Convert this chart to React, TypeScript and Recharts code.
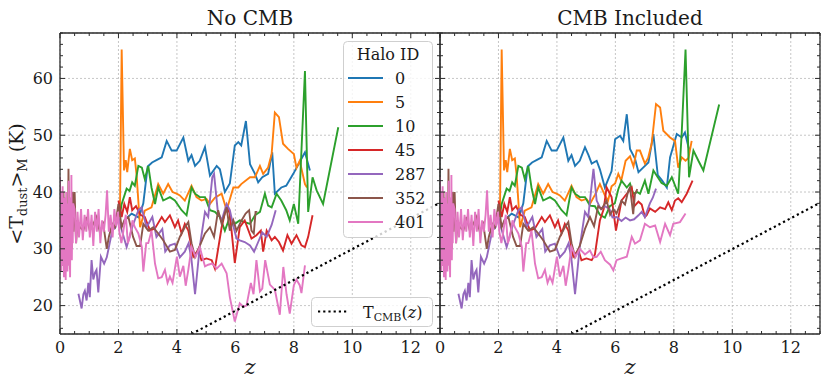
import { LineChart, Line, XAxis, YAxis, CartesianGrid, Legend } from "recharts";

type Pt = [number, number];

// halo tracks: shared low-z part, then the high-z part of each run
const halo0Low: Pt[] = [[2.2,35.0],[2.45,36.2],[2.7,35.5],[2.85,38],[3.0,44.5],[3.15,45.2],[3.3,45.6],[3.48,46.1],[3.65,49.0],[3.82,47.3],[3.99,47.3],[4.22,49.6],[4.39,45.5],[4.5,46.5],[4.62,44.6],[4.78,45.5],[4.96,47.9]];
const halo0NoCmb: Pt[] = [[5.13,42.9],[5.36,44.6],[5.47,44],[5.64,40.0],[5.81,41.5],[5.98,48.2],[6.1,48.8],[6.2,48.2],[6.36,52.5],[6.5,44.9],[6.67,43.2],[6.78,41.7],[6.92,42.6],[7.12,43.2],[7.26,47],[7.35,39.7],[7.57,40.8],[7.74,41.1],[7.98,43.2],[8.38,47],[8.55,43.8]];
const halo0Cmb: Pt[] = [[5.08,46.5],[5.19,45],[5.36,45.5],[5.47,44],[5.64,40.8],[5.87,43.7],[5.99,49.3],[6.16,49.9],[6.27,49],[6.39,53.7],[6.5,47.6],[6.67,45.9],[6.79,43.5],[6.95,44.3],[7.13,45.2],[7.3,50.2],[7.45,43],[7.6,42],[7.76,40.8],[7.87,46.1],[8.1,50.2],[8.27,49.6],[8.38,50.5],[8.5,47.9],[8.55,47.5]];

const halo5Low: Pt[] = [[2.05,35.6],[2.11,65.1],[2.19,43.8],[2.25,45.6],[2.3,43.5],[2.39,47.6],[2.47,45.6],[2.56,45.9],[2.62,43],[2.74,33.8],[2.9,36.7],[3.13,37.3],[3.36,41.4],[3.53,39.7],[3.7,41.4],[3.85,40],[3.99,39.7],[4.1,39.4],[4.27,38.5],[4.5,41.1],[4.67,39.1],[4.84,38.5],[5.01,38.8],[5.13,37.9]];
const halo5NoCmb: Pt[] = [[5.3,39],[5.53,39.7],[5.7,36.8],[5.93,40.8],[6.1,40.8],[6.2,41.4],[6.5,42.6],[6.67,42.6],[6.84,44.6],[6.95,43.2],[7.12,44.3],[7.24,46.7],[7.35,54.0],[7.49,53.2],[7.63,48.5],[7.8,47.6],[8.0,46.7],[8.09,44.3],[8.2,45.5],[8.38,41.4],[8.45,40.8]];
const halo5Cmb: Pt[] = [[5.3,39.5],[5.47,41.4],[5.64,39.4],[5.75,38.5],[5.87,41],[5.99,41.5],[6.1,43.2],[6.2,42],[6.35,45.5],[6.5,46.3],[6.62,44.5],[6.73,47.3],[6.84,47.3],[7.01,45],[7.12,46],[7.24,48.5],[7.39,55.5],[7.53,54.9],[7.64,50.8],[7.87,49.6],[8.04,49],[8.15,44.3],[8.27,46.1],[8.4,45.5],[8.5,46],[8.61,49]];

const halo10Low: Pt[] = [[2.05,36],[2.11,37.9],[2.28,40.6],[2.38,40.2],[2.47,41.7],[2.56,41.1],[2.68,44.6],[2.8,44.3],[2.9,42.3],[3.02,44.6],[3.13,40.8],[3.25,37.9],[3.36,40.8],[3.53,38.5],[3.76,39.1],[3.93,38.5],[4.16,36.8],[4.33,35.9],[4.5,40.8],[4.62,39.7],[4.78,39.1],[4.96,39.1]];
const halo10NoCmb: Pt[] = [[5.13,36.8],[5.3,36.5],[5.47,35.6],[5.64,33.2],[5.81,35.6],[5.98,34.4],[6.15,35.0],[6.32,34.7],[6.5,34.4],[6.67,35.9],[6.84,36.5],[7.01,39.7],[7.12,37.6],[7.24,37.3],[7.41,39.7],[7.57,38.5],[7.74,36.8],[7.86,35.0],[8.0,37.9],[8.15,34.4],[8.38,61.3],[8.49,36.5],[8.64,42.6],[8.78,40.3],[9.0,37.9],[9.52,51.4]];
const halo10Cmb: Pt[] = [[5.13,37.6],[5.3,37.5],[5.47,36],[5.64,35.5],[5.81,37.5],[5.98,38],[6.1,40.5],[6.21,42],[6.39,40.8],[6.5,41.5],[6.61,39.7],[6.75,40],[6.84,39.7],[7.01,42],[7.13,39.7],[7.3,43.8],[7.45,42.6],[7.58,41.6],[7.76,41.1],[7.93,42.6],[8.15,39.7],[8.27,50.5],[8.4,65.1],[8.52,42.6],[8.67,47.3],[8.84,45.5],[9.01,43.8],[9.55,55.4]];

const halo45Low: Pt[] = [[2.0,38.5],[2.11,35.6],[2.2,37.9],[2.3,36.5],[2.39,39.1],[2.47,36.8],[2.6,37.5],[2.75,36],[2.9,35.6],[3.08,33.2],[3.25,33.6],[3.48,35.6],[3.59,34.7],[3.76,35.9],[3.93,33.8],[4.04,35.0],[4.16,32.7],[4.27,34.4],[4.39,33.2],[4.56,28.6],[4.73,29.8],[4.84,28.0],[5.01,28.3],[5.19,28.0]];
const halo45NoCmb: Pt[] = [[5.3,26.5],[5.53,33.8],[5.7,37.6],[5.81,36.2],[5.98,27.5],[6.15,33.8],[6.32,35.0],[6.55,31.8],[6.72,32.4],[6.87,33.2],[6.95,29.5],[7.07,33.2],[7.24,31.5],[7.35,32.1],[7.49,31.2],[7.63,29.7],[7.78,32.4],[7.92,30.9],[8.09,32.4],[8.26,30.6],[8.38,30.3],[8.49,32.1],[8.64,35.9]];
const halo45Cmb: Pt[] = [[5.3,29],[5.47,35],[5.6,37],[5.7,40.8],[5.87,39.1],[6.02,33.2],[6.21,38.5],[6.39,39.7],[6.56,40.8],[6.65,37.5],[6.79,38.3],[6.9,37.8],[7.01,35.6],[7.07,35.9],[7.18,37.1],[7.36,36.5],[7.53,37.3],[7.7,37],[7.81,38.2],[7.93,36.8],[8.04,38.5],[8.15,38.9],[8.27,38.2],[8.44,39.7],[8.64,42]];

const halo287Low: Pt[] = [[0.63,22.1],[0.74,19.5],[0.8,22],[0.85,22.6],[0.91,20.9],[0.97,24],[1.02,21.5],[1.08,28],[1.14,24.6],[1.2,25.8],[1.25,26.3],[1.31,22.3],[1.4,28.6],[1.51,27.4],[1.6,28.5],[1.7,31],[1.79,33.2],[1.9,33.8],[2.0,35.6],[2.1,33.5],[2.28,30.3],[2.47,33.8],[2.68,36.8],[2.79,37.3],[2.96,33.8],[3.16,35.6],[3.3,32.1],[3.5,33.5],[3.6,29.5],[3.76,30.6],[3.93,30.9],[4.1,28.5],[4.27,29.5],[4.4,31],[4.5,28],[4.62,22.0],[4.78,30.3],[4.96,36.5],[5.07,35.6]];
const halo287NoCmb: Pt[] = [[5.21,42.6],[5.27,43.2],[5.4,36.5],[5.53,35],[5.7,37.9],[5.81,36.8],[5.93,34],[6.04,31.8],[6.15,31.5],[6.32,31.2],[6.5,30.6],[6.64,29.5],[6.78,31.2],[6.92,32.9],[7.07,32.1],[7.24,34.2],[7.38,36.8]];
const halo287Cmb: Pt[] = [[5.25,44.1],[5.36,38.5],[5.5,37],[5.64,37.5],[5.8,37],[5.9,35.5],[6.04,35.6],[6.21,34.9],[6.35,35.5],[6.5,35],[6.64,35.2],[6.79,35.9],[6.9,36.5],[7.01,35.6],[7.18,38],[7.28,39],[7.39,40.6]];

const halo352Low: Pt[] = [[0.0,36],[0.03,30],[0.06,38],[0.09,27],[0.12,40],[0.15,29],[0.18,39],[0.21,27],[0.24,38],[0.27,29],[0.29,44.1],[0.32,30],[0.34,26.3],[0.37,39],[0.4,30],[0.43,40],[0.46,33],[0.5,40],[0.55,31],[0.6,35],[0.68,33.8],[0.8,33.2],[0.91,35.6],[1.02,33.2],[1.14,34.4],[1.25,35.6],[1.36,33],[1.48,34.4],[1.6,30.0],[1.67,32.1],[1.79,34.4],[1.88,33.8],[2.0,37.9],[2.11,33.8],[2.2,35],[2.34,35.6],[2.5,32.1],[2.62,30.5],[2.74,30.5],[2.85,34.4],[3.02,33.2],[3.19,33.8],[3.36,32.7],[3.53,31.5],[3.76,29.5],[3.93,29.8],[4.1,32.1],[4.27,33.8],[4.39,34.7],[4.5,31],[4.62,28.6],[4.78,30.5]];
const halo352NoCmb: Pt[] = [[4.96,32.7],[5.13,33.8],[5.27,32.1],[5.41,36.8],[5.53,34.4],[5.7,37.3],[5.81,33.2],[5.93,35],[6.04,33.2],[6.21,35],[6.35,36.2],[6.47,36.8],[6.55,33.2],[6.63,32.7],[6.69,36.5],[6.75,36.5]];
const halo352Cmb: Pt[] = [[4.96,33.5],[5.13,35.6],[5.27,34],[5.41,37.5],[5.53,37],[5.7,38.5],[5.82,36],[5.93,37],[6.04,36.2],[6.21,38.5],[6.33,37.8],[6.44,40.2],[6.5,40.8],[6.61,36.1],[6.67,39.6],[6.75,40.5]];

const halo401Low: Pt[] = [[0.0,42.6],[0.015,28],[0.03,40],[0.045,26],[0.06,38],[0.075,30],[0.09,41],[0.105,27],[0.12,36],[0.135,25],[0.15,39],[0.165,29],[0.18,37],[0.195,24.5],[0.21,40],[0.225,28],[0.24,35],[0.255,26],[0.27,38],[0.285,29],[0.3,42],[0.315,27],[0.33,37],[0.345,25],[0.36,39],[0.375,30],[0.39,43],[0.405,28],[0.42,36],[0.435,31],[0.45,38],[0.5,37],[0.55,31],[0.6,36.5],[0.65,32],[0.72,37],[0.78,31.5],[0.84,36],[0.9,33],[0.96,37],[1.02,32],[1.08,36],[1.14,30.5],[1.2,36.5],[1.26,33],[1.32,37],[1.38,31],[1.44,35],[1.5,33],[1.56,36],[1.61,40.3],[1.67,33],[1.73,36],[1.8,32],[1.86,37],[1.92,34],[1.98,36.5],[2.03,33],[2.1,31],[2.17,33.2],[2.25,36],[2.32,31],[2.39,32.1],[2.48,35],[2.56,33.8],[2.68,32.7],[2.8,30.3],[2.85,26],[2.95,31],[3.02,31],[3.13,33.2],[3.25,27.4],[3.36,24.8],[3.48,25],[3.59,26.3],[3.68,24],[3.76,25.1],[3.85,24],[3.93,26.5],[4.0,28.6],[4.1,25.1],[4.22,27],[4.3,23.5],[4.39,26.3],[4.5,30.3]];
const halo401NoCmb: Pt[] = [[4.64,28.6],[4.78,30.3],[4.96,26.9],[5.07,27.2],[5.21,27.4],[5.36,26.5],[5.53,27.4],[5.7,25.7],[5.81,21.5],[5.98,17.2],[6.15,20.4],[6.27,19.8],[6.38,20],[6.53,24],[6.62,22],[6.72,28],[6.84,22.5],[6.92,23],[7.02,28],[7.18,23.7],[7.35,22.8],[7.52,18.4],[7.64,26.8],[7.75,22],[7.86,18.6],[8.0,23.6],[8.09,24.6],[8.2,23.6],[8.26,22.2],[8.38,27.1]];
const halo401Cmb: Pt[] = [[4.64,28.6],[4.78,30],[4.96,29],[5.13,29.7],[5.25,28.5],[5.36,28.6],[5.5,29.5],[5.64,28],[5.82,27.2],[5.93,26.2],[6.04,28],[6.21,28.3],[6.39,28.6],[6.56,32.1],[6.67,30.9],[6.84,31.5],[7.01,34.4],[7.18,33.8],[7.36,34.1],[7.53,31.2],[7.7,34.4],[7.87,32.4],[7.98,34.4],[8.21,34.7],[8.4,36.2]];

// CMB temperature, read at both ends of the dotted line
const tcmb: Pt[] = [[4.5, 15.0], [13, 38.1]];

const haloIds = ["0", "5", "10", "45", "287", "352", "401"];
const COLORS = ["#1f77b4", "#ff7f0e", "#2ca02c", "#d62728", "#9467bd", "#8c564b", "#e377c2"];
const xMajor = [0, 2, 4, 6, 8, 10, 12];
const yMajor = [20, 30, 40, 50, 60];
const xAllTicks = Array.from({ length: 27 }, (_, i) => i * 0.5);
const yAllTicks = Array.from({ length: 27 }, (_, i) => 16 + i * 2);

const X_DOMAIN: [number, number] = [0, 13];
const Y_DOMAIN: [number, number] = [15, 68];
const SERIF = '"DejaVu Serif", "Liberation Serif", serif';
const INK = "#1a1a1a";
const FRAME = "#2b2b2b";

const noCmbSeries = [
  halo0Low.concat(halo0NoCmb),
  halo5Low.concat(halo5NoCmb),
  halo10Low.concat(halo10NoCmb),
  halo45Low.concat(halo45NoCmb),
  halo287Low.concat(halo287NoCmb),
  halo352Low.concat(halo352NoCmb),
  halo401Low.concat(halo401NoCmb),
];
const cmbSeries = [
  halo0Low.concat(halo0Cmb),
  halo5Low.concat(halo5Cmb),
  halo10Low.concat(halo10Cmb),
  halo45Low.concat(halo45Cmb),
  halo287Low.concat(halo287Cmb),
  halo352Low.concat(halo352Cmb),
  halo401Low.concat(halo401Cmb),
];

const rows = (pts: Pt[]) => pts.map(([z, t]) => ({ z, t }));

const bottomTick = (props: any) => {
  const { x, y, payload } = props;
  const major = payload.value % 2 === 0;
  return (
    <g>
      <line x1={x} x2={x} y1={y} y2={y - (major ? 5 : 3)} stroke={FRAME} strokeWidth={1} />
      {major && (
        <text x={x} y={y + 19} textAnchor="middle" fontFamily={SERIF} fontSize={16} fill={INK}>
          {payload.value}
        </text>
      )}
    </g>
  );
};

const topTick = (props: any) => {
  const { x, y, payload } = props;
  const major = payload.value % 2 === 0;
  return <line x1={x} x2={x} y1={y} y2={y + (major ? 5 : 3)} stroke={FRAME} strokeWidth={1} />;
};

const leftTick = (showLabel: boolean) => (props: any) => {
  const { x, y, payload } = props;
  const major = payload.value % 10 === 0;
  return (
    <g>
      <line x1={x} x2={x + (major ? 5 : 3)} y1={y} y2={y} stroke={FRAME} strokeWidth={1} />
      {showLabel && major && (
        <text x={x - 7} y={y + 5.5} textAnchor="end" fontFamily={SERIF} fontSize={16} fill={INK}>
          {payload.value}
        </text>
      )}
    </g>
  );
};

const rightTick = (props: any) => {
  const { x, y, payload } = props;
  const major = payload.value % 10 === 0;
  return <line x1={x} x2={x - (major ? 5 : 3)} y1={y} y2={y} stroke={FRAME} strokeWidth={1} />;
};

const xLabel = (props: any) => {
  const vb = props.viewBox || {};
  return (
    <text x={vb.x + vb.width / 2} y={374} textAnchor="middle" fontFamily={SERIF} fontStyle="italic" fontSize={21} fill={INK}>
      z
    </text>
  );
};

const titleLabel = (title: string) => (props: any) => {
  const vb = props.viewBox || {};
  return (
    <text x={vb.x + vb.width / 2} y={25} textAnchor="middle" fontFamily={SERIF} fontSize={20} fill={INK}>
      {title}
    </text>
  );
};

const yLabel = () => (
  <text transform="translate(23,184) rotate(-90)" textAnchor="middle" fontFamily={SERIF} fontSize={19} fill={INK}>
    {"<T"}
    <tspan fontSize={13} dy={4}>dust</tspan>
    <tspan dy={-4}>{">"}</tspan>
    <tspan fontSize={13} dy={4}>M</tspan>
    <tspan dy={-4}>{" (K)"}</tspan>
  </text>
);

const LegendBoxes = () => (
  <svg width={441} height={390} style={{ display: "block" }}>
    <rect x={343.5} y={41.5} width={89} height={196} rx={4} fill="#fff" fillOpacity={0.8} stroke="#cfcfcf" />
    <text x={388} y={60} textAnchor="middle" fontFamily={SERIF} fontSize={16} fill={INK}>
      Halo ID
    </text>
    {haloIds.map((id, i) => (
      <g key={id}>
        <line x1={348} x2={383} y1={78 + 24 * i} y2={78 + 24 * i} stroke={COLORS[i]} strokeWidth={2} />
        <text x={395} y={83.5 + 24 * i} fontFamily={SERIF} fontSize={16} fill={INK}>
          {id}
        </text>
      </g>
    ))}
    <rect x={311.5} y={297.5} width={121} height={29} rx={4} fill="#fff" fillOpacity={0.8} stroke="#cfcfcf" />
    <line x1={318} x2={348} y1={311.5} y2={311.5} stroke="#000" strokeWidth={2.2} strokeDasharray="2.2 3" />
    <text x={363} y={318} fontFamily={SERIF} fontSize={16} fill={INK}>
      T<tspan fontSize={11} dy={3}>CMB</tspan>
      <tspan dy={-3}>(</tspan>
      <tspan fontStyle="italic">z</tspan>)
    </text>
  </svg>
);

function Panel({ series, title, width, marginLeft, marginRight, isLeft }: { series: Pt[][]; title: string; width: number; marginLeft: number; marginRight: number; isLeft: boolean }) {
  const tcmbRows = rows(tcmb);
  return (
    <LineChart width={width} height={390} margin={{ top: 32, right: marginRight, bottom: 0, left: marginLeft }}>
      <CartesianGrid xAxisId="gx" yAxisId="gy" stroke="#b8b8b8" strokeDasharray="2 2" strokeWidth={0.8} />
      <XAxis xAxisId="gx" type="number" dataKey="z" domain={X_DOMAIN} ticks={xMajor} hide />
      <YAxis yAxisId="gy" type="number" domain={Y_DOMAIN} ticks={yMajor} hide />
      <XAxis
        type="number"
        dataKey="z"
        domain={X_DOMAIN}
        ticks={xAllTicks}
        interval={0}
        height={56}
        tickSize={0}
        tickMargin={0}
        tickLine={false}
        axisLine={{ stroke: FRAME, strokeWidth: 1.3 }}
        tick={bottomTick}
        label={xLabel}
        allowDataOverflow
      />
      <XAxis
        xAxisId="top"
        orientation="top"
        type="number"
        dataKey="z"
        domain={X_DOMAIN}
        ticks={xAllTicks}
        interval={0}
        height={1}
        tickSize={0}
        tickMargin={0}
        tickLine={false}
        axisLine={{ stroke: FRAME, strokeWidth: 1.3 }}
        tick={topTick}
        label={titleLabel(title)}
      />
      <YAxis
        type="number"
        domain={Y_DOMAIN}
        ticks={yAllTicks}
        interval={0}
        width={isLeft ? 60 : 1}
        tickSize={0}
        tickMargin={0}
        tickLine={false}
        axisLine={{ stroke: FRAME, strokeWidth: 1.3 }}
        tick={leftTick(isLeft)}
        label={isLeft ? yLabel : undefined}
        allowDataOverflow
      />
      <YAxis
        yAxisId="right"
        orientation="right"
        type="number"
        domain={Y_DOMAIN}
        ticks={yAllTicks}
        interval={0}
        width={1}
        tickSize={0}
        tickMargin={0}
        tickLine={false}
        axisLine={{ stroke: FRAME, strokeWidth: 1.3 }}
        tick={rightTick}
      />
      {/* invisible copies so the grid and frame axes have a series bound to them */}
      <Line xAxisId="gx" yAxisId="gy" data={tcmbRows} dataKey="t" stroke="none" dot={false} activeDot={false} legendType="none" isAnimationActive={false} />
      <Line xAxisId="top" yAxisId="right" data={tcmbRows} dataKey="t" stroke="none" dot={false} activeDot={false} legendType="none" isAnimationActive={false} />
      {series.map((pts, i) => (
        <Line
          key={haloIds[i]}
          name={haloIds[i]}
          data={rows(pts)}
          dataKey="t"
          type="linear"
          stroke={COLORS[i]}
          strokeWidth={1.9}
          dot={false}
          activeDot={false}
          isAnimationActive={false}
        />
      ))}
      <Line
        data={tcmbRows}
        dataKey="t"
        type="linear"
        stroke="#000"
        strokeWidth={2.2}
        strokeDasharray="2.2 3"
        dot={false}
        activeDot={false}
        legendType="none"
        isAnimationActive={false}
      />
      {isLeft && (
        <Legend
          layout="vertical"
          align="center"
          verticalAlign="middle"
          content={LegendBoxes}
          wrapperStyle={{ left: 0, top: 0, width: 441, height: 390, pointerEvents: "none" }}
        />
      )}
    </LineChart>
  );
}

export default function App() {
  return (
    <div style={{ position: "fixed", left: 0, top: 0, width: 831, height: 390, background: "#fff" }}>
      <div style={{ position: "absolute", left: 0, top: 0 }}>
        <Panel series={noCmbSeries} title="No CMB" width={441} marginLeft={0} marginRight={0} isLeft />
      </div>
      <div style={{ position: "absolute", left: 420, top: 0 }}>
        <Panel series={cmbSeries} title="CMB Included" width={411} marginLeft={19} marginRight={10} isLeft={false} />
      </div>
    </div>
  );
}
